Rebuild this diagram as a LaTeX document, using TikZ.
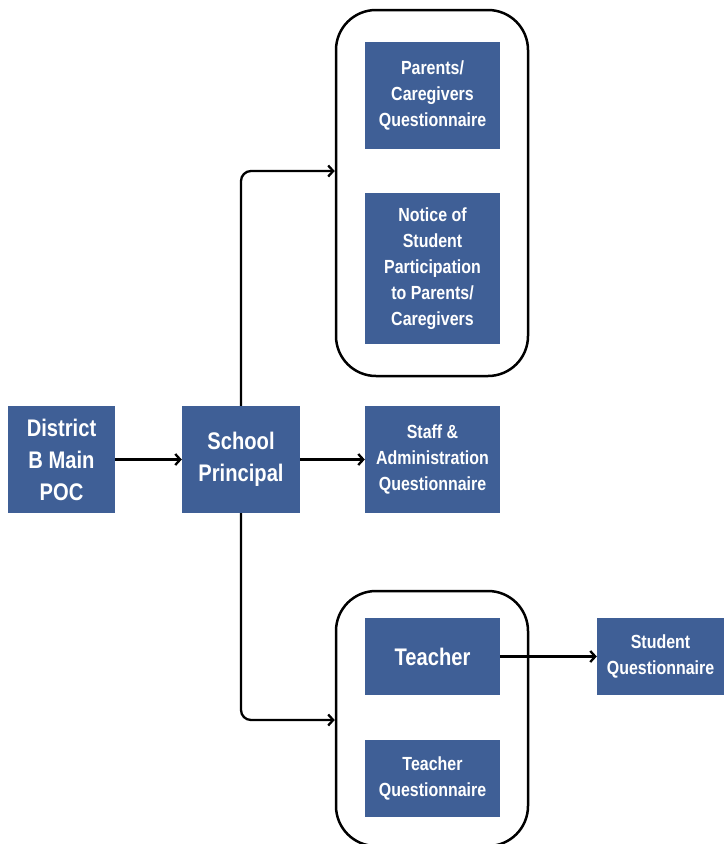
\documentclass[tikz,border=0pt]{standalone}
\usepackage{fontspec}
\setmainfont{Liberation Sans}[FakeStretch=0.84]
\usetikzlibrary{arrows.meta}
\definecolor{boxblue}{RGB}{63,95,150}
\tikzset{
  bluebox/.style={fill=boxblue, draw=none, text=white, align=center, inner sep=0pt,
    font=\fontsize{19}{26}\selectfont\bfseries},
  bigtext/.style={font=\fontsize{24}{32}\selectfont\bfseries},
  group/.style={draw=black, line width=2.5pt, rounded corners=40pt, inner sep=0pt},
  conn/.style={draw=black, line width=2.3pt, -{Straight Barb[length=5pt,width=11pt,line width=2.3pt]}, rounded corners=10pt}
}
\begin{document}
\begin{tikzpicture}[x=1pt,y=-1pt]
\useasboundingbox (0,0) rectangle (724,844);
\fill[white] (0,0) rectangle (724,844);
% containers
\node[group, minimum width=192pt, minimum height=366pt] (topgrp) at (432,193) {};
\node[group, minimum width=192pt, minimum height=255pt] (botgrp) at (432,718.5) {};
% boxes
\node[bluebox, bigtext, minimum width=107pt, minimum height=107pt] (district) at (61.5,459.5) {District\\B Main\\POC};
\node[bluebox, bigtext, minimum width=118pt, minimum height=107pt] (principal) at (241,459.5) {School\\Principal};
\node[bluebox, minimum width=135pt, minimum height=107pt] (staff) at (432.5,459.5) {Staff \&\\Administration\\Questionnaire};
\node[bluebox, minimum width=135pt, minimum height=107pt] (parents) at (432.5,95.5) {Parents/\\Caregivers\\Questionnaire};
\node[bluebox, minimum width=135pt, minimum height=151pt] (notice) at (432.5,268.5) {Notice of\\Student\\Participation\\to Parents/\\Caregivers};
\node[bluebox, bigtext, minimum width=135pt, minimum height=77pt] (teacher) at (432.5,656.5) {Teacher};
\node[bluebox, minimum width=135pt, minimum height=77pt] (teacherq) at (432.5,778.5) {Teacher\\Questionnaire};
\node[bluebox, minimum width=127pt, minimum height=77pt] (student) at (660.5,656.5) {Student\\Questionnaire};
% connectors
\draw[conn] (district.east) -- (principal.west);
\draw[conn] (principal.east) -- (staff.west);
\draw[conn] (principal.north) |- ([yshift=22pt]topgrp.west);
\draw[conn] (principal.south) |- ([yshift=-1.5pt]botgrp.west);
\draw[conn] (teacher.east) -- (student.west);
\end{tikzpicture}
\end{document}
